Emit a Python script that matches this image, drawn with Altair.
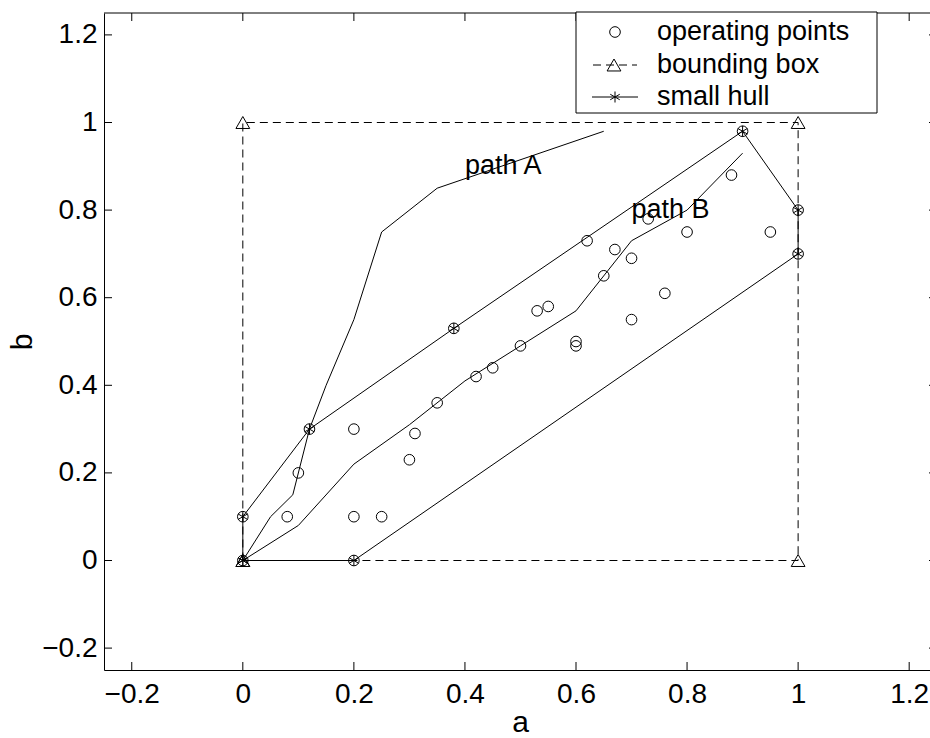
import altair as alt
import pandas as pd

# ---------------- data ----------------
op_a = [0.00, 0.00, 0.08, 0.10, 0.12, 0.20, 0.20, 0.20, 0.25, 0.30, 0.31, 0.35, 0.38,
        0.42, 0.45, 0.50, 0.53, 0.55, 0.60, 0.60, 0.62, 0.65, 0.67, 0.70, 0.70, 0.73,
        0.76, 0.80, 0.88, 0.90, 0.95, 1.00, 1.00]
op_b = [0.00, 0.10, 0.10, 0.20, 0.30, 0.30, 0.10, 0.00, 0.10, 0.23, 0.29, 0.36, 0.53,
        0.42, 0.44, 0.49, 0.57, 0.58, 0.50, 0.49, 0.73, 0.65, 0.71, 0.69, 0.55, 0.78,
        0.61, 0.75, 0.88, 0.98, 0.75, 0.80, 0.70]

hull_a = [0.00, 0.00, 0.12, 0.38, 0.90, 1.00, 1.00, 0.20, 0.00]
hull_b = [0.00, 0.10, 0.30, 0.53, 0.98, 0.80, 0.70, 0.00, 0.00]

box_a = [0, 0, 1, 1, 0]
box_b = [0, 1, 1, 0, 0]

pathA_a = [0.00, 0.05, 0.09, 0.12, 0.15, 0.20, 0.25, 0.35, 0.65]
pathA_b = [0.00, 0.10, 0.15, 0.30, 0.40, 0.55, 0.75, 0.85, 0.98]

pathB_a = [0.00, 0.10, 0.20, 0.30, 0.40, 0.50, 0.60, 0.70, 0.80, 0.90]
pathB_b = [0.00, 0.08, 0.22, 0.31, 0.41, 0.49, 0.57, 0.73, 0.80, 0.93]

label_text = ["path A", "path B"]
label_a = [0.40, 0.70]
label_b = [0.90, 0.80]

tick_vals = [-0.2, 0, 0.2, 0.4, 0.6, 0.8, 1.0, 1.2]
legend_labels = ["operating points", "bounding box", "small hull"]

# ---------------- style ----------------
W, H = 826, 657
FONT = "Liberation Sans"
FS = 27
STAR = "M0,-1L0,1M-0.866,-0.5L0.866,0.5M-0.866,0.5L0.866,-0.5"

xs = alt.Scale(domain=[-0.25, 1.2375], nice=False, zero=False)
ys = alt.Scale(domain=[-0.25, 1.25], nice=False, zero=False)

x_axis = alt.Axis(values=tick_vals, format=".1~f", ticks=False, tickSize=0, grid=False,
                  domain=True, domainColor="black", domainWidth=1,
                  labelFont=FONT, labelFontSize=28, labelColor="black", labelPadding=10,
                  labelFlush=False, labelOverlap=False,
                  title="a", titleFont=FONT, titleFontSize=30, titleFontWeight="normal",
                  titleColor="black", titleX=416, titleY=61, titleBaseline="alphabetic",
                  titleAlign="center")
y_axis = alt.Axis(values=tick_vals, format=".1~f", ticks=False, tickSize=0, grid=False,
                  domain=True, domainColor="black", domainWidth=1,
                  labelFont=FONT, labelFontSize=28, labelColor="black", labelPadding=7,
                  labelFlush=False, labelOverlap=False,
                  title="b", titleFont=FONT, titleFontSize=30, titleFontWeight="normal",
                  titleColor="black", titleX=-82, titleY=H / 2, titleAngle=270,
                  titleBaseline="middle", titleAlign="center")


def X(f):
    return alt.X(f, scale=xs, axis=x_axis)


def Y(f):
    return alt.Y(f, scale=ys, axis=y_axis)


def seq_df(a, b):
    return pd.DataFrame({"a": a, "b": b, "i": list(range(len(a)))})


ops = alt.Chart(seq_df(op_a, op_b)).mark_point(
    shape="circle", filled=False, size=113, color="black", strokeWidth=1, opacity=1
).encode(x=X("a:Q"), y=Y("b:Q"))

box_line = alt.Chart(seq_df(box_a, box_b)).mark_line(
    color="black", strokeWidth=1, strokeDash=[8, 5]
).encode(x=X("a:Q"), y=Y("b:Q"), order=alt.Order("i:Q"))
box_pts = alt.Chart(seq_df(box_a, box_b)).mark_point(
    shape="triangle-up", filled=False, size=190, color="black", strokeWidth=1, opacity=1
).encode(x=X("a:Q"), y=Y("b:Q"))

hull_line = alt.Chart(seq_df(hull_a, hull_b)).mark_line(
    color="black", strokeWidth=1
).encode(x=X("a:Q"), y=Y("b:Q"), order=alt.Order("i:Q"))
hull_pts = alt.Chart(seq_df(hull_a, hull_b)).mark_point(
    shape=STAR, filled=False, size=121, color="black", strokeWidth=1, opacity=1
).encode(x=X("a:Q"), y=Y("b:Q"))

pathA = alt.Chart(seq_df(pathA_a, pathA_b)).mark_line(color="black", strokeWidth=1).encode(
    x=X("a:Q"), y=Y("b:Q"), order=alt.Order("i:Q"))
pathB = alt.Chart(seq_df(pathB_a, pathB_b)).mark_line(color="black", strokeWidth=1).encode(
    x=X("a:Q"), y=Y("b:Q"), order=alt.Order("i:Q"))

labels = alt.Chart(pd.DataFrame({"t": label_text, "a": label_a, "b": label_b})).mark_text(
    align="left", baseline="middle", font=FONT, fontSize=FS, color="black"
).encode(x=X("a:Q"), y=Y("b:Q"), text="t:N")

# inward ticks and top frame line
tick_df = pd.DataFrame({"t": tick_vals})
tick_bottom = alt.Chart(tick_df).mark_rule(color="black", strokeWidth=1).encode(
    x=X("t:Q"), y=alt.value(H), y2=alt.value(H - 8))
tick_top = alt.Chart(tick_df).mark_rule(color="black", strokeWidth=1).encode(
    x=X("t:Q"), y=alt.value(0), y2=alt.value(8))
tick_left = alt.Chart(tick_df).mark_rule(color="black", strokeWidth=1).encode(
    y=Y("t:Q"), x=alt.value(0), x2=alt.value(8))
tick_right = alt.Chart(tick_df).mark_rule(color="black", strokeWidth=1).encode(
    y=Y("t:Q"), x=alt.value(825), x2=alt.value(833))
one = pd.DataFrame({"k": [0]})
top_line = alt.Chart(one).mark_rule(color="black", strokeWidth=1).encode(
    x=alt.value(0), x2=alt.value(W), y=alt.value(0))

# legend
leg_box = alt.Chart(one).mark_rect(fill="white", stroke="black", strokeWidth=1).encode(
    x=alt.value(472), x2=alt.value(773), y=alt.value(-1), y2=alt.value(100))
rows_y = [19, 52, 84]
leg_layers = [leg_box]
for lab, yy in zip(legend_labels, rows_y):
    leg_layers.append(
        alt.Chart(pd.DataFrame({"t": [lab]})).mark_text(
            align="left", baseline="middle", font=FONT, fontSize=FS, color="black"
        ).encode(x=alt.value(553), y=alt.value(yy), text="t:N"))
leg_layers.append(alt.Chart(one).mark_point(
    shape="circle", filled=False, size=113, color="black", strokeWidth=1, opacity=1
).encode(x=alt.value(511), y=alt.value(rows_y[0])))
leg_layers.append(alt.Chart(one).mark_rule(color="black", strokeWidth=1, strokeDash=[8, 5]).encode(
    x=alt.value(489), x2=alt.value(533), y=alt.value(rows_y[1])))
leg_layers.append(alt.Chart(one).mark_point(
    shape="triangle-up", filled=False, size=190, color="black", strokeWidth=1, opacity=1
).encode(x=alt.value(510), y=alt.value(rows_y[1])))
leg_layers.append(alt.Chart(one).mark_rule(color="black", strokeWidth=1).encode(
    x=alt.value(488), x2=alt.value(534), y=alt.value(rows_y[2])))
leg_layers.append(alt.Chart(one).mark_point(
    shape=STAR, filled=False, size=121, color="black", strokeWidth=1, opacity=1
).encode(x=alt.value(511), y=alt.value(rows_y[2])))

chart = alt.layer(
    ops, box_line, box_pts, hull_line, hull_pts, pathA, pathB, labels,
    tick_bottom, tick_top, tick_left, tick_right, top_line, *leg_layers
).properties(
    width=W, height=H,
    autosize=alt.AutoSizeParams(type="none"),
    padding={"left": 104, "top": 13, "right": 0, "bottom": 68},
    background="white",
).configure_view(stroke=None)

chart.save("out.html", embed_options={"renderer": "svg", "actions": False})
